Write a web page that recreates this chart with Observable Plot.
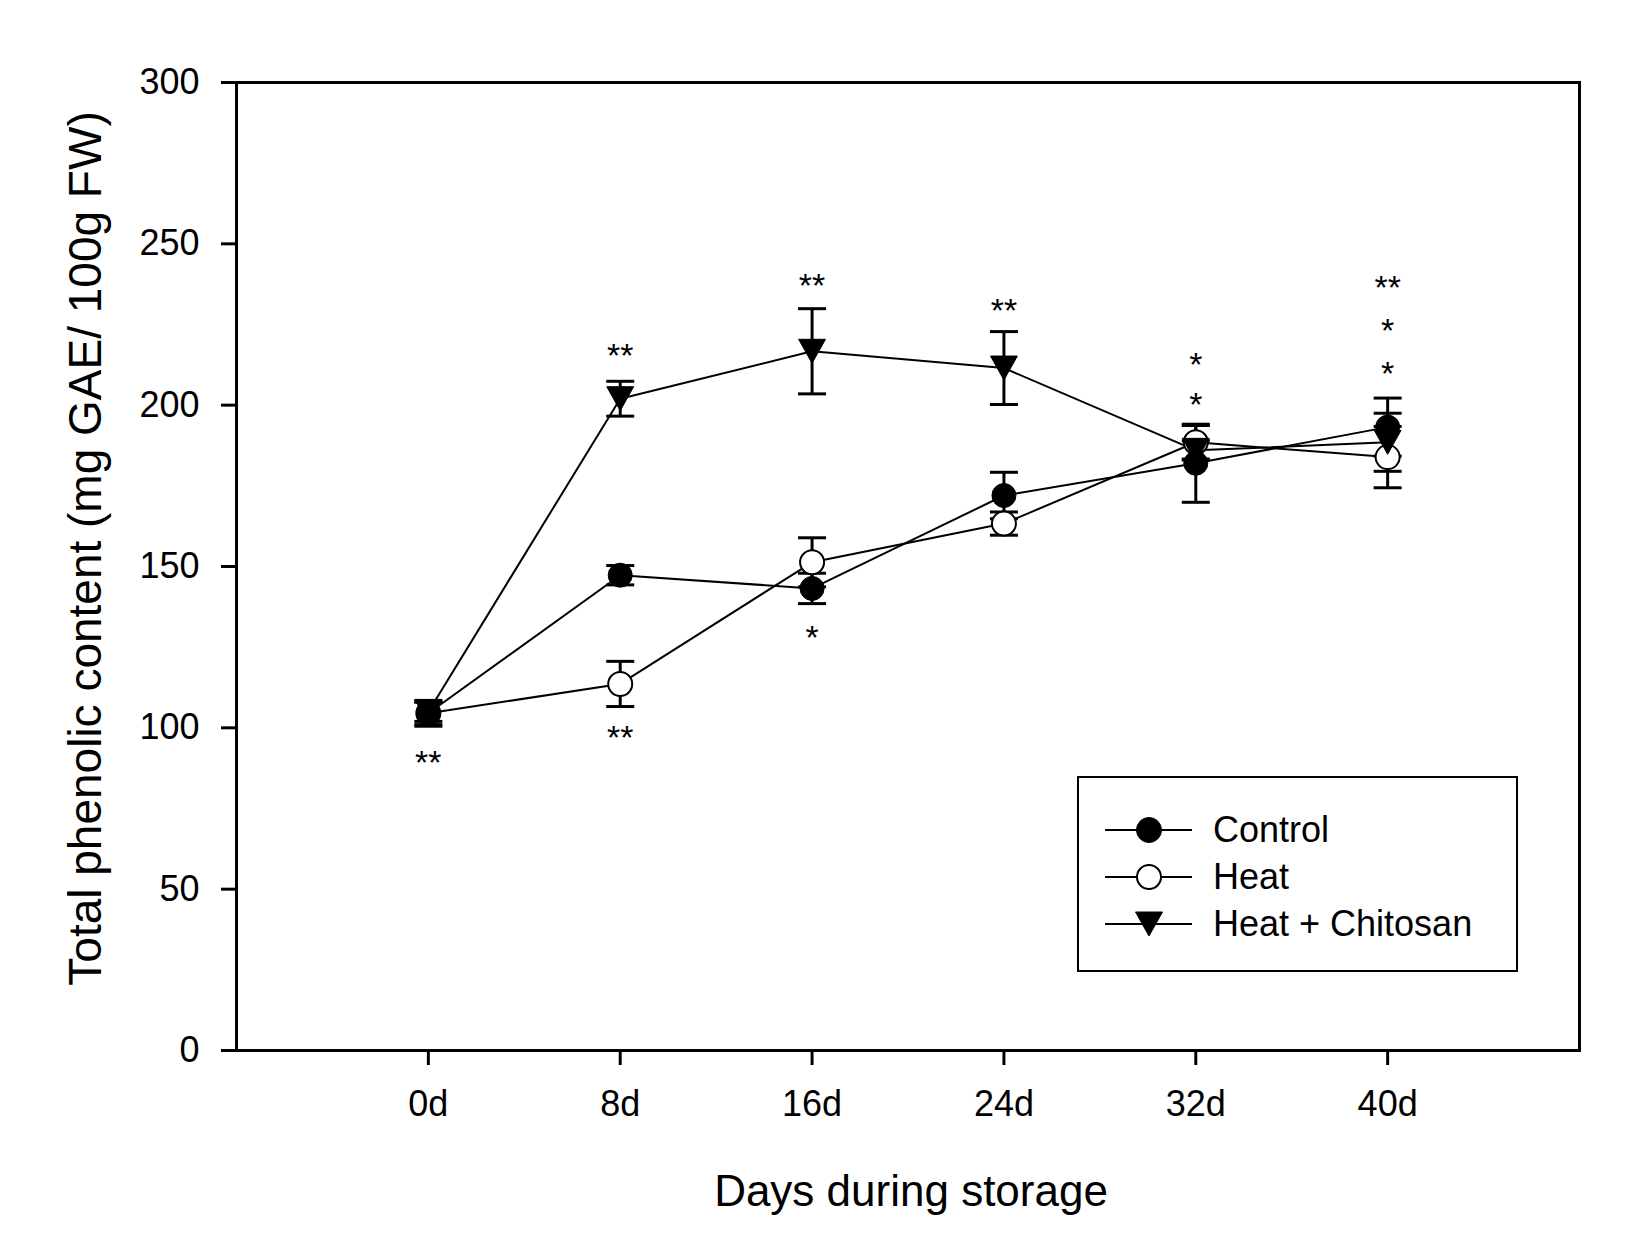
<!DOCTYPE html>
<html>
<head>
<meta charset="utf-8">
<script src="https://cdn.jsdelivr.net/npm/d3@7"></script>
<script src="https://cdn.jsdelivr.net/npm/@observablehq/plot@0.6"></script>
<style>
html, body { margin: 0; padding: 0; background: #fff; overflow: hidden; }
#wrap { position: relative; width: 1630px; height: 1246px; font-family: "Liberation Sans", Arial, sans-serif; }
#wrap svg { display: block; }
#legend { position: absolute; left: 1077px; top: 776px; width: 441px; height: 196px; border: 2.5px solid #000; box-sizing: border-box; background: #fff; }
.lrow { position: absolute; left: 0; width: 100%; height: 40px; }
.lrow svg { position: absolute; left: 20px; top: 0; }
.lrow span { position: absolute; left: 134px; top: 0; font-size: 36px; line-height: 40px; color: #000; white-space: nowrap; }
</style>
</head>
<body>
<div id="wrap"></div>
<script>
// ---- data ----
const days = [0, 8, 16, 24, 32, 40];
const dayLabels = ["0d", "8d", "16d", "24d", "32d", "40d"];
const yTicks = [0, 50, 100, 150, 200, 250, 300];
const seriesNames = ["Control", "Heat", "Heat + Chitosan"];

const controlMean = [104.5, 147.3, 143.2, 172.0, 182.0, 193.2];
const controlErr  = [4.0, 3.0, 4.7, 7.2, 12.1, 9.0];
const heatMean    = [104.5, 113.6, 151.3, 163.3, 188.5, 183.9];
const heatErr     = [3.5, 7.0, 7.6, 3.6, 5.2, 9.5];
const chitosanMean = [105.0, 202.0, 216.7, 211.5, 186.0, 188.5];
const chitosanErr  = [3.0, 5.4, 13.2, 11.3, 3.0, 9.0];

// significance marks: day, level (data units), label
const starDays  = [0, 8, 8, 16, 16, 24, 32, 32, 40, 40, 40];
const starLevel = [92, 218, 99.7, 239.7, 130.7, 231.9, 215.2, 202.8, 239.2, 225.7, 212.3];
const starText  = ["**", "**", "**", "**", "*", "**", "*", "*", "**", "*", "*"];

const xTitle = "Days during storage";
const yTitle = "Total phenolic content (mg GAE/ 100g FW)";

// ---- build tables ----
function series(name, means, errs) {
  return days.map((d, i) => ({ series: name, day: d, mean: means[i], err: errs[i] }));
}
const controlRows = series(seriesNames[0], controlMean, controlErr);
const heatRows = series(seriesNames[1], heatMean, heatErr);
const chitosanRows = series(seriesNames[2], chitosanMean, chitosanErr);
const rows = [...controlRows, ...heatRows, ...chitosanRows];
const stars = starDays.map((d, i) => ({ day: d, level: starLevel[i], label: starText[i] }));

// ---- custom symbols ----
const invTriangle = {
  draw(ctx, size) {
    const r = Math.sqrt(size / Math.PI);
    const w = 1.12 * r, h = 1.0 * r;
    ctx.moveTo(-w, -h); ctx.lineTo(w, -h); ctx.lineTo(0, h); ctx.closePath();
  }
};
const capSymbol = {
  draw(ctx, size) {
    const r = Math.sqrt(size / Math.PI);
    ctx.moveTo(-r, 0); ctx.lineTo(r, 0);
  }
};

const hi = d => d.mean + d.err;
const lo = d => d.mean - d.err;
const font = '"Liberation Sans", Arial, sans-serif';
const starSize = 34;

const chart = Plot.plot({
  width: 1630,
  height: 1246,
  marginLeft: 236,
  marginRight: 51,
  marginTop: 82,
  marginBottom: 196,
  style: { fontFamily: font, background: "white", color: "black" },
  x: { domain: [-8, 48] },
  y: { domain: [0, 300] },
  marks: [
    Plot.axisY({ ticks: yTicks, tickSize: 15, tickPadding: 22, fontSize: 36, strokeWidth: 3, label: null, tickFormat: d => String(d) }),
    Plot.axisX({ ticks: days, tickSize: 15, tickPadding: 25, fontSize: 36, strokeWidth: 3, label: null, tickFormat: d => dayLabels[days.indexOf(d)] }),
    Plot.frame({ stroke: "black", strokeWidth: 3 }),
    Plot.line(rows, { x: "day", y: "mean", z: "series", stroke: "black", strokeWidth: 2 }),
    Plot.ruleX(rows, { x: "day", y1: lo, y2: hi, stroke: "black", strokeWidth: 3 }),
    Plot.dot(rows, { x: "day", y: hi, symbol: capSymbol, r: 14, stroke: "black", strokeWidth: 3, fill: "none" }),
    Plot.dot(rows, { x: "day", y: lo, symbol: capSymbol, r: 14, stroke: "black", strokeWidth: 3, fill: "none" }),
    Plot.dot(heatRows, { x: "day", y: "mean", r: 12, fill: "white", stroke: "black", strokeWidth: 2 }),
    Plot.dot(chitosanRows, { x: "day", y: "mean", r: 12, symbol: invTriangle, fill: "black", stroke: "black", strokeWidth: 1 }),
    Plot.dot(controlRows, { x: "day", y: "mean", r: 12, fill: "black", stroke: "black", strokeWidth: 1 }),
    Plot.text(stars, { x: "day", y: "level", text: "label", fontSize: starSize, lineAnchor: "bottom", dy: 20, fill: "black" }),
    Plot.text([yTitle], { text: d => d, frameAnchor: "left", textAnchor: "middle", lineAnchor: "bottom", rotate: -90, dx: -136, dy: -18, fontSize: 46, fill: "black" }),
    Plot.text([xTitle], { text: d => d, frameAnchor: "bottom", textAnchor: "middle", lineAnchor: "bottom", dx: 3, dy: 155, fontSize: 44, fill: "black" })
  ]
});

const wrap = document.getElementById("wrap");
wrap.appendChild(chart);

// ---- legend ----
const legend = document.createElement("div");
legend.id = "legend";
const rowCenters = [52, 99, 146];
const swatches = [
  '<circle cx="50" cy="20" r="12.5" fill="black" stroke="black" stroke-width="1"/>',
  '<circle cx="50" cy="20" r="12" fill="white" stroke="black" stroke-width="2"/>',
  '<path d="M36.5,8 L63.5,8 L50,32 Z" fill="black" stroke="black" stroke-width="1"/>'
];
seriesNames.forEach((name, i) => {
  const row = document.createElement("div");
  row.className = "lrow";
  row.style.top = (rowCenters[i] - 20) + "px";
  row.innerHTML =
    '<svg width="100" height="40" viewBox="0 0 100 40">' +
    '<line x1="6" x2="93" y1="20" y2="20" stroke="black" stroke-width="2"/>' +
    swatches[i] + '</svg><span>' + name + '</span>';
  legend.appendChild(row);
});
wrap.appendChild(legend);
</script>
</body>
</html>
